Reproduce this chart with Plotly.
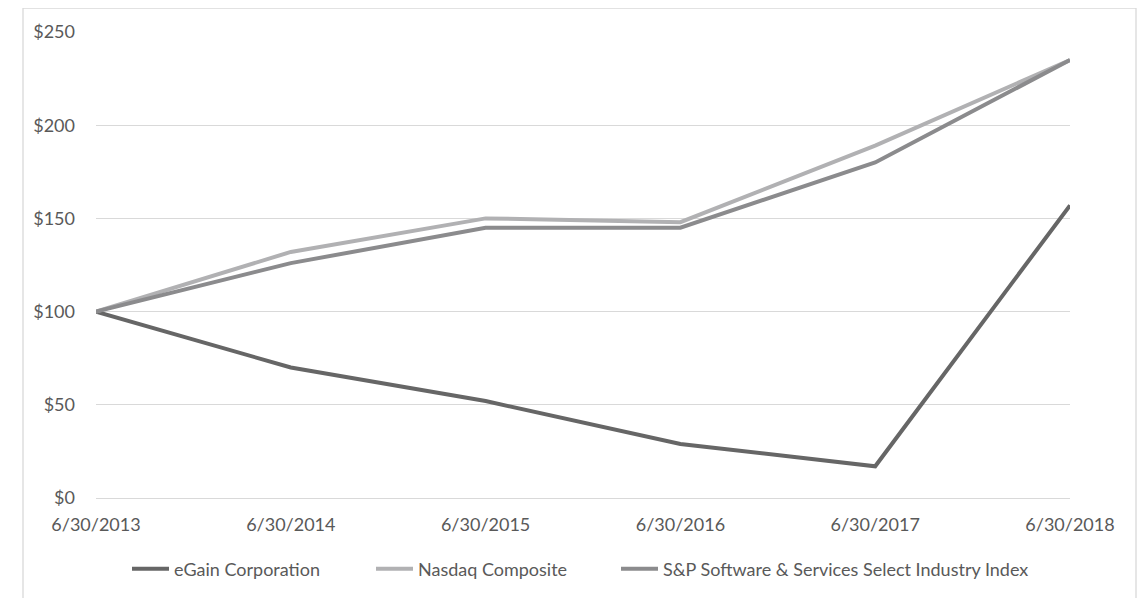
import plotly.graph_objects as go

dates = ["6/30/2013", "6/30/2014", "6/30/2015", "6/30/2016", "6/30/2017", "6/30/2018"]
egain = [100, 70, 52, 29, 17, 157]
nasdaq = [100, 132, 150, 148, 189, 235]
sp_software = [100, 126, 145, 145, 180, 235]

series = [
    ("eGain Corporation", egain, "#666666"),
    ("Nasdaq Composite", nasdaq, "#b1b1b3"),
    ("S&P Software & Services Select Industry Index", sp_software, "#8b8b8d"),
]

font = dict(family="Lato, 'Open Sans', sans-serif", size=18, color="#595959")

# page has 8px body margin; figure coords = screen coords - 8
W, H = 1139, 590
L, R, T, B = 88, 1062, 24, 491
pw, ph = R - L, B - T

legend_names = ["legend", "legend2", "legend3"]
legend_line_start = [135, 379, 624]  # screen x of legend swatches

fig = go.Figure()
for (name, vals, col), lg in zip(series, legend_names):
    fig.add_trace(go.Scatter(x=dates, y=vals, name=name, mode="lines", legend=lg,
                             line=dict(color=col, width=4)))

legend_cfg = {}
for lg, xs in zip(legend_names, legend_line_start):
    legend_cfg[lg] = dict(orientation="h", x=(xs - 8 - 8 - L) / pw, xanchor="left",
                          y=(B - 561) / ph, yanchor="middle", bgcolor="rgba(0,0,0,0)",
                          font=font, itemwidth=37)

fig.update_layout(
    width=W, height=H,
    margin=dict(l=L, r=W - R, t=T, b=H - B),
    paper_bgcolor="white", plot_bgcolor="white",
    font=font,
    showlegend=True,
    xaxis=dict(type="category", range=[0, 5], showgrid=False, zeroline=False,
               showline=False, ticks="", ticklabelstandoff=14, tickfont=font),
    yaxis=dict(range=[0, 250], dtick=50, tickprefix="$", showgrid=True,
               gridcolor="#d9d9d9", gridwidth=1.3, zeroline=True, zerolinecolor="#d9d9d9",
               zerolinewidth=1.3, showline=False, ticks="", ticklabelstandoff=20, tickfont=font),
    shapes=[dict(type="rect", xref="paper", yref="paper",
                 x0=(15 - L) / pw, x1=(1128 - L) / pw,
                 y0=(B - 620) / ph, y1=(B - 0) / ph,
                 line=dict(color="#d9d9d9", width=1.3), fillcolor="rgba(0,0,0,0)", layer="below")],
    **legend_cfg,
)

fig.write_html("out.html")
